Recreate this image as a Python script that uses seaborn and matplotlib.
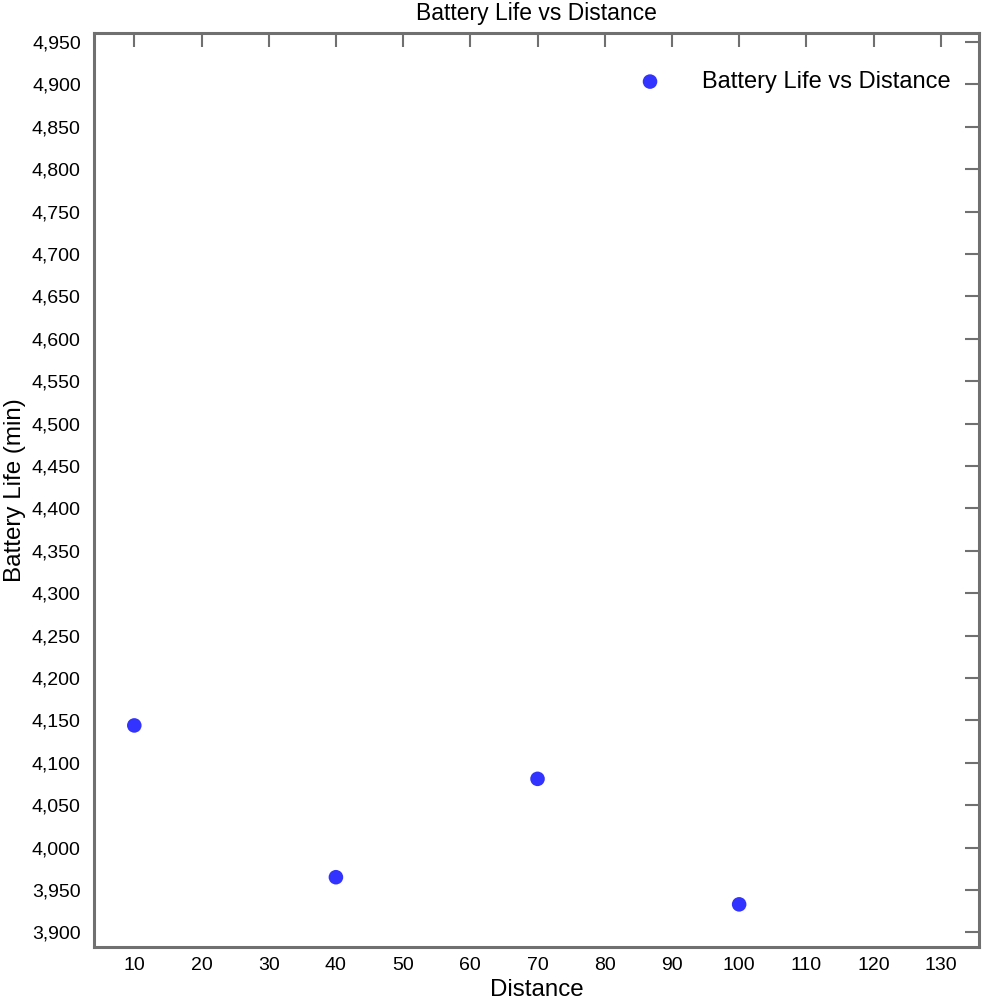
import pandas as pd
import matplotlib
matplotlib.use('Agg')
import matplotlib.pyplot as plt
import matplotlib.ticker as mticker
import seaborn as sns

# Data
distance = [10, 40, 70, 100]
battery_life = [4144, 3965, 4081, 3933]

df = pd.DataFrame({'Distance': distance, 'Battery Life (min)': battery_life})

sns.set_style('white')
plt.rcParams['font.family'] = ['Liberation Sans', 'DejaVu Sans']
plt.rcParams['text.color'] = 'black'
plt.rcParams['axes.labelcolor'] = 'black'

fig, ax = plt.subplots(figsize=(9.83, 10), dpi=100)
fig.subplots_adjust(left=0.0956, right=0.996, top=0.967, bottom=0.053)

sns.scatterplot(data=df, x='Distance', y='Battery Life (min)', ax=ax,
                color='#3333FF', s=110, edgecolor='none',
                label='Battery Life vs Distance')

ax.set_xlim(4, 135.7)
ax.set_ylim(3882.7, 4960.6)
ax.xaxis.set_major_locator(mticker.MultipleLocator(10))
ax.yaxis.set_major_locator(mticker.MultipleLocator(50))
ax.yaxis.set_major_formatter(mticker.FuncFormatter(lambda v, p: f'{v:,.0f}'))

ax.tick_params(direction='in', length=10, width=1.5, color='#707070',
               top=True, right=True, labelsize=14, labelcolor='black')
ax.tick_params(axis='x', pad=7)
ax.tick_params(axis='y', pad=9.5)
for sp in ax.spines.values():
    sp.set_color('#707070')
    sp.set_linewidth(2.2)

ax.set_title('Battery Life vs Distance', fontsize=16.5, pad=9.5)
ax.set_xlabel('Distance', fontsize=17.4, labelpad=4)
ax.set_ylabel('Battery Life (min)', fontsize=17.4, labelpad=4)

ax.legend(loc='upper right', bbox_to_anchor=(0.9785, 0.969), borderaxespad=0,
          frameon=False, fontsize=17, handletextpad=1.2)

plt.savefig('out.png', dpi=100)
